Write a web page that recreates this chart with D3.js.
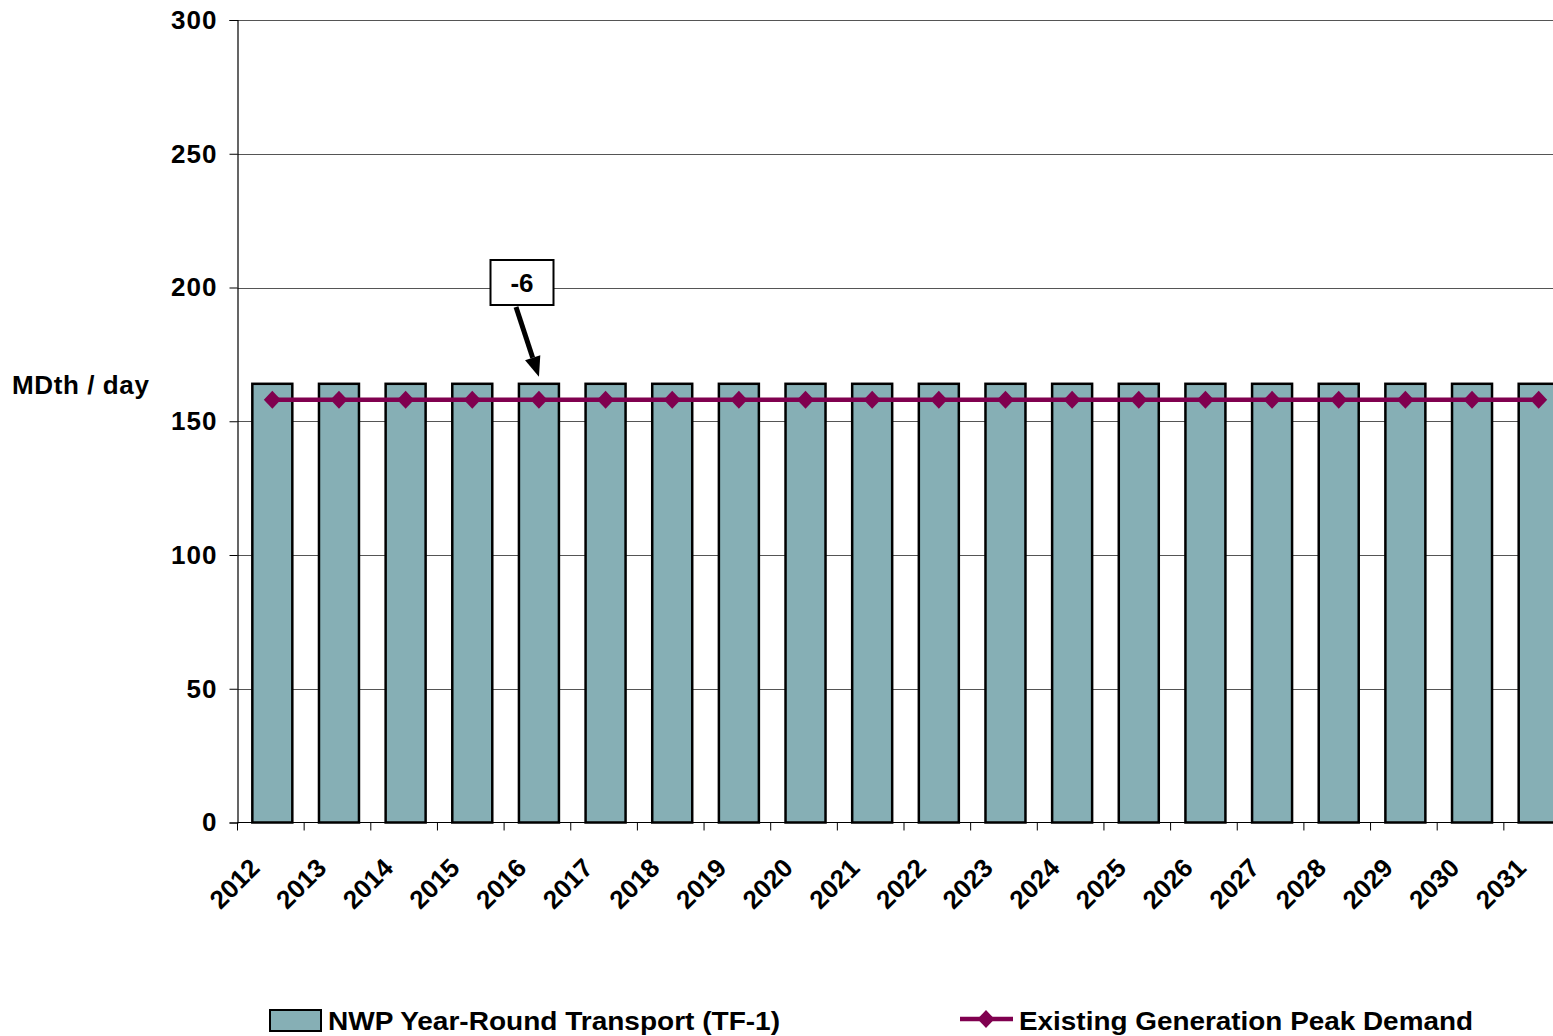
<!DOCTYPE html>
<html>
<head>
<meta charset="utf-8">
<script src="https://cdn.jsdelivr.net/npm/d3@7"></script>
<style>
  html, body { margin: 0; padding: 0; background: #fff; }
  svg { display: block; }
  text { font-family: "Liberation Sans", Arial, sans-serif; font-weight: bold; fill: #000; }
</style>
</head>
<body>
<svg id="chart" width="1553" height="1036"></svg>
<script>
// Annual capacity vs. peak demand, MDth/day
const years = ["2012","2013","2014","2015","2016","2017","2018","2019","2020","2021",
               "2022","2023","2024","2025","2026","2027","2028","2029","2030","2031"];
const transportTF1 = [164,164,164,164,164,164,164,164,164,164,
                      164,164,164,164,164,164,164,164,164,164];
const peakDemand = [158,158,158,158,158,158,158,158,158,158,
                    158,158,158,158,158,158,158,158,158,158];
const yTicks = [0, 50, 100, 150, 200, 250, 300];
const calloutYear = "2016";
const seriesNames = ["NWP Year-Round Transport (TF-1)", "Existing Generation Peak Demand"];

const barColor = "#86afb5";
const lineColor = "#80004f";

const svg = d3.select("#chart");

const plotLeft = 237.5, plotTop = 20, plotBottom = 822.5;
const bandStep = 66.65;

const x = d3.scaleBand()
  .domain(years)
  .range([plotLeft + 1.5, plotLeft + 1.5 + bandStep * years.length])
  .paddingInner(0.4)
  .paddingOuter(0.2);

const y = d3.scaleLinear().domain([0, 300]).range([plotBottom, plotTop]);

// horizontal gridlines
svg.append("g")
  .selectAll("line")
  .data(yTicks.filter(d => d > 0))
  .join("line")
  .attr("x1", plotLeft).attr("x2", 1553)
  .attr("y1", d => Math.round(y(d)) + 0.5).attr("y2", d => Math.round(y(d)) + 0.5)
  .attr("stroke", "#555").attr("stroke-width", 1);

// bars
svg.append("g")
  .selectAll("rect")
  .data(years.map((yr, i) => ({ yr, v: transportTF1[i] })))
  .join("rect")
  .attr("x", d => x(d.yr))
  .attr("y", d => y(d.v))
  .attr("width", x.bandwidth())
  .attr("height", d => y(0) - y(d.v))
  .attr("fill", barColor)
  .attr("stroke", "#000")
  .attr("stroke-width", 2.5);

// y axis
const yAxis = d3.axisLeft(y).tickValues(yTicks).tickSize(8).tickPadding(12).tickFormat(d3.format("d"));
const gy = svg.append("g").attr("transform", `translate(${plotLeft},0)`).call(yAxis);
gy.select(".domain").attr("stroke", "#000").attr("stroke-width", 1.2);
gy.selectAll(".tick line").attr("stroke", "#000");
gy.selectAll(".tick text")
  .attr("font-size", 26)
  .attr("letter-spacing", 1)
  .attr("font-family", "Liberation Sans, Arial, sans-serif")
  .attr("font-weight", "bold")
  .attr("fill", "#000");

// x axis baseline and category boundary ticks
svg.append("line")
  .attr("x1", plotLeft).attr("x2", 1553)
  .attr("y1", plotBottom).attr("y2", plotBottom)
  .attr("stroke", "#000").attr("stroke-width", 1.2);
svg.append("g")
  .selectAll("line")
  .data(years.map((yr, i) => plotLeft + i * bandStep))
  .join("line")
  .attr("x1", d => d).attr("x2", d => d)
  .attr("y1", plotBottom).attr("y2", plotBottom + 8)
  .attr("stroke", "#000");

// rotated year labels
svg.append("g")
  .selectAll("text")
  .data(years)
  .join("text")
  .attr("transform", d => `translate(${x(d) + x.bandwidth() / 2 - 11},${plotBottom + 47}) rotate(-45)`)
  .attr("text-anchor", "end")
  .attr("font-size", 26)
  .text(d => d);

// peak demand line with diamond markers
const cx = d => x(d) + x.bandwidth() / 2;
const line = d3.line().x(d => cx(d.yr)).y(d => y(d.v));
const pts = years.map((yr, i) => ({ yr, v: peakDemand[i] }));
const diamond = "M0,-9L8.5,0L0,9L-8.5,0Z";
svg.append("path")
  .datum(pts)
  .attr("d", line)
  .attr("fill", "none")
  .attr("stroke", lineColor)
  .attr("stroke-width", 4.5);
svg.append("g")
  .selectAll("path")
  .data(pts)
  .join("path")
  .attr("transform", d => `translate(${cx(d.yr)},${y(d.v)})`)
  .attr("d", diamond)
  .attr("fill", lineColor);

// y axis title
svg.append("text")
  .attr("x", 12).attr("y", 394)
  .attr("font-size", 26)
  .attr("letter-spacing", 0.6)
  .text("MDth / day");

// callout: difference between peak demand and capacity
const idx = years.indexOf(calloutYear);
const diff = peakDemand[idx] - transportTF1[idx];
const bx = 490.5, by = 260, bw = 63, bh = 45;
svg.append("rect")
  .attr("x", bx).attr("y", by).attr("width", bw).attr("height", bh)
  .attr("fill", "#fff").attr("stroke", "#000").attr("stroke-width", 2);
svg.append("text")
  .attr("x", bx + bw / 2).attr("y", by + 32)
  .attr("text-anchor", "middle")
  .attr("font-size", 26)
  .text(diff);
const tipX = cx(calloutYear), tipY = y(transportTF1[idx]) - 7;
const startX = 516, startY = 307;
const ang = Math.atan2(tipY - startY, tipX - startX);
const headLen = 20, headW = 8;
const baseX = tipX - headLen * Math.cos(ang), baseY = tipY - headLen * Math.sin(ang);
svg.append("line")
  .attr("x1", startX).attr("y1", startY).attr("x2", baseX).attr("y2", baseY)
  .attr("stroke", "#000").attr("stroke-width", 5);
svg.append("path")
  .attr("d", `M${tipX},${tipY}L${baseX + headW * Math.sin(ang)},${baseY - headW * Math.cos(ang)}L${baseX - headW * Math.sin(ang)},${baseY + headW * Math.cos(ang)}Z`)
  .attr("fill", "#000");

// legend
const leg = svg.append("g");
leg.append("rect")
  .attr("x", 270).attr("y", 1010).attr("width", 51).attr("height", 21)
  .attr("fill", barColor).attr("stroke", "#000").attr("stroke-width", 2);
leg.append("text")
  .attr("x", 328).attr("y", 1030)
  .attr("font-size", 26)
  .attr("textLength", 452).attr("lengthAdjust", "spacingAndGlyphs")
  .text(seriesNames[0]);
leg.append("line")
  .attr("x1", 960).attr("x2", 1013).attr("y1", 1019).attr("y2", 1019)
  .attr("stroke", lineColor).attr("stroke-width", 4.5);
leg.append("path")
  .attr("transform", "translate(986,1019)")
  .attr("d", diamond)
  .attr("fill", lineColor);
leg.append("text")
  .attr("x", 1019).attr("y", 1030)
  .attr("font-size", 26)
  .attr("textLength", 454).attr("lengthAdjust", "spacingAndGlyphs")
  .text(seriesNames[1]);
</script>
</body>
</html>
